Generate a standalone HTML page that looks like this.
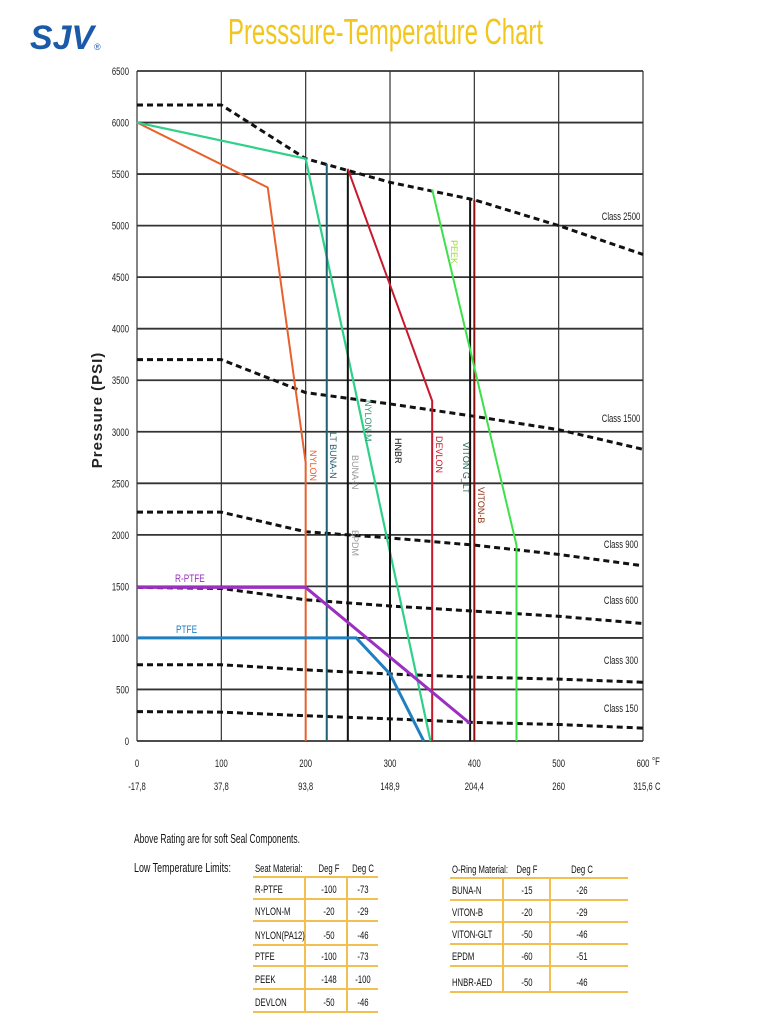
<!DOCTYPE html>
<html><head><meta charset="utf-8"><style>
body{margin:0;background:#fff;width:768px;height:1024px;overflow:hidden;font-family:"Liberation Sans",sans-serif}
svg{display:block}
</style></head><body>
<svg id="c" width="768" height="1024" xmlns="http://www.w3.org/2000/svg">
<text x="30" y="49" font-family="Liberation Sans" font-weight="bold" font-style="italic" font-size="34" fill="#1a5aa8" textLength="64" lengthAdjust="spacingAndGlyphs">SJV</text>
<text x="94" y="50" font-family="Liberation Sans" font-size="9" fill="#1a5aa8">®</text>
<text x="228" y="44" font-size="36" fill="#f2c61c" textLength="315" lengthAdjust="spacingAndGlyphs">Presssure-Temperature Chart</text>
<text transform="translate(102,410) rotate(-90)" text-anchor="middle" font-family="Liberation Sans" font-weight="bold" font-size="15" letter-spacing="1" fill="#222">Pressure (PSI)</text>
<g id="grid"></g><g id="classes"></g><g id="series"></g><g id="labels"></g>
<g fill="#111">
<text x="134" y="843" font-size="13" textLength="166" lengthAdjust="spacingAndGlyphs">Above Rating are for soft Seal Components.</text>
<text x="134" y="872" font-size="13" textLength="97" lengthAdjust="spacingAndGlyphs">Low Temperature Limits:</text>
</g>
<g id="tables"></g>
</svg>
<script>
const NS='http://www.w3.org/2000/svg';
const tempTicksF=[0,100,200,300,400,500,600];
const tempTicksC=['-17,8','37,8','93,8','148,9','204,4','260','315,6'];
const psiTicks=[0,500,1000,1500,2000,2500,3000,3500,4000,4500,5000,5500,6000,6500];
const classNames=['Class 2500','Class 1500','Class 900','Class 600','Class 300','Class 150'];
const classTemps=[0,100,200,300,400,500,600];
const class2500=[6170,6170,5650,5420,5250,5000,4720];
const class1500=[3700,3700,3380,3270,3150,3020,2830];
const class900=[2220,2220,2030,1970,1900,1810,1700];
const class600=[1490,1480,1370,1310,1260,1210,1140];
const class300=[740,740,690,650,620,600,570];
const class150=[285,280,245,215,180,160,125];
const nylonT=[0,155,198,200,200], nylonP=[6000,5370,2820,2700,0];
const nylonMT=[0,200,348], nylonMP=[6000,5650,0];
const ltBunaT=[225,225], ltBunaP=[5600,0];
const bunaT=[250,250], bunaP=[5550,0];
const hnbrT=[300,300], hnbrP=[5420,0];
const devlonT=[250,350,350], devlonP=[5550,3300,0];
const vitonGltT=[395,395], vitonGltP=[5270,0];
const vitonBT=[400,400], vitonBP=[5250,0];
const peekT=[350,450,450], peekP=[5350,1900,0];
const rptfeT=[0,200,395], rptfeP=[1490,1490,170];
const ptfeT=[0,260,300,340], ptfeP=[1000,1000,650,0];
const seatRows=[['Seat Material:','Deg F','Deg C'],['R-PTFE','-100','-73'],['NYLON-M','-20','-29'],['NYLON(PA12)','-50','-46'],['PTFE','-100','-73'],['PEEK','-148','-100'],['DEVLON','-50','-46']];
const oringRows=[['O-Ring Material:','Deg F','Deg C'],['BUNA-N','-15','-26'],['VITON-B','-20','-29'],['VITON-GLT','-50','-46'],['EPDM','-60','-51'],['HNBR-AED','-50','-46']];

const X0=137,X1=643,Y0=741,Y1=71;
const x=f=>X0+(X1-X0)*f/600;
const y=p=>Y0-(Y0-Y1)*p/6500;
function mk(tag,attrs,parent,text){const e=document.createElementNS(NS,tag);for(const k in attrs)e.setAttribute(k,attrs[k]);if(text!==undefined)e.textContent=text;parent.appendChild(e);return e;}
function nt(px,py,attrs,parent,text,sx){
 const a=Object.assign({transform:`translate(${px},${py}) scale(${sx||0.75},1)`,x:0,y:0},attrs);
 return mk('text',a,parent,text);
}
const grid=document.getElementById('grid');
psiTicks.forEach(p=>{
 const l=mk('line',{x1:X0,x2:X1,y1:y(p),y2:y(p),stroke:'#333','stroke-width':1.8},grid);
 
 
 const t=nt(X0-8,y(p)+4,{'text-anchor':'end','font-size':11,fill:'#222'},grid,String(p),0.7);
 
 
});
tempTicksF.forEach((f,i)=>{
 const l=mk('line',{x1:x(f),x2:x(f),y1:Y1,y2:Y0,stroke:'#333','stroke-width':1.2},grid);
 
 
 const t=nt(x(f),767,{'text-anchor':'middle','font-size':11,fill:'#222'},grid,String(f),0.7);
 
 
 const c=nt(x(f),790,{'text-anchor':'middle','font-size':11,fill:'#222'},grid,tempTicksC[i],0.7);
 
 
});
const uf=nt(652,765,{'font-size':11,fill:'#222'},grid,'°F',0.7);
const uc=nt(655,790,{'font-size':11,fill:'#222'},grid,'C',0.7);
const cls=document.getElementById('classes');
const classData=[class2500,class1500,class900,class600,class300,class150];
const classLabelY=[220,422,548,604,664,712];
classData.forEach((arr,i)=>{
 const pts=classTemps.map((t,j)=>x(t)+','+y(arr[j])).join(' ');
 const pl=mk('polyline',{points:pts,fill:'none',stroke:'#111','stroke-width':3,'stroke-dasharray':'6,4'},cls);
 
 
 const t=nt(621,classLabelY[i],{'text-anchor':'middle','font-size':11,fill:'#222'},cls,classNames[i],0.7);
 
 
});
const ser=document.getElementById('series');
const series=[['nylon',nylonT,nylonP,'#e8602c',2],['nylon-m',nylonMT,nylonMP,'#2fd08a',2.2],['lt-buna-n',ltBunaT,ltBunaP,'#1f5f6e',2],['buna-n',bunaT,bunaP,'#111',2],['hnbr',hnbrT,hnbrP,'#111',2],['devlon',devlonT,devlonP,'#c8182c',2],['viton-glt',vitonGltT,vitonGltP,'#111',2],['viton-b',vitonBT,vitonBP,'#8a1010',2],['peek',peekT,peekP,'#3ee04a',2],['r-ptfe',rptfeT,rptfeP,'#9a2fc0',3],['ptfe',ptfeT,ptfeP,'#1f7fc0',3]];
series.forEach(s=>{
 const pts=s[1].map((t,j)=>x(t)+','+y(s[2][j])).join(' ');
 const pl=mk('polyline',{points:pts,fill:'none',stroke:s[3],'stroke-width':s[4]},ser);
 
 
});
const lab=document.getElementById('labels');
const vlabels=[['NYLON',310,450,'#e8602c'],['LT BUNA-N',330,432,'#1f5f6e'],['BUNA-N',352,455,'#999'],['EPDM',352,530,'#999'],['NYLON-M',365,400,'#2a9a70'],['HNBR',395,438,'#111'],['DEVLON',436,436,'#c8182c'],['VITON G_LT',463,442,'#1f5f4e'],['VITON-B',478,487,'#8a3010'],['PEEK',451,240,'#9adc30']];
vlabels.forEach(v=>{
 const t=mk('text',{transform:`translate(${v[1]},${v[2]}) rotate(90)`,'font-family':'Liberation Sans','font-size':9,fill:v[3]},lab,v[0]);
 
 
});
const r1=nt(175,582,{'font-size':11,fill:'#9a2fc0'},lab,'R-PTFE',0.75);
const r2=nt(176,633,{'font-size':11,fill:'#1f7fc0'},lab,'PTFE',0.75);
const tb=document.getElementById('tables');
function table(rows,x0,x1,cols,seps,lines,name){
 const g=mk('g',{},tb);
 
 
 lines.forEach(ly=>mk('line',{x1:x0,x2:x1,y1:ly,y2:ly,stroke:'#f2c050','stroke-width':2},g));
 seps.forEach(sx=>mk('line',{x1:sx,x2:sx,y1:lines[0],y2:lines[lines.length-1],stroke:'#f2c050','stroke-width':2},g));
 rows.forEach((r,i)=>{
  const ty=i==0?lines[0]-5:lines[i]-6;
  r.forEach((c,j)=>{
   const t=nt(cols[j],ty,{'font-size':11,fill:'#111','text-anchor':j==0?'start':'middle'},g,c,0.7);
   
   
  });
 });
}
table(seatRows,253,378,[255,329,363],[305,347],[877,899,921,945,966,989,1012],'seat-material-table');
table(oringRows,450,628,[452,527,582],[503,550],[878,900,922,944,966,992],'oring-material-table');
</script>
</body></html>
